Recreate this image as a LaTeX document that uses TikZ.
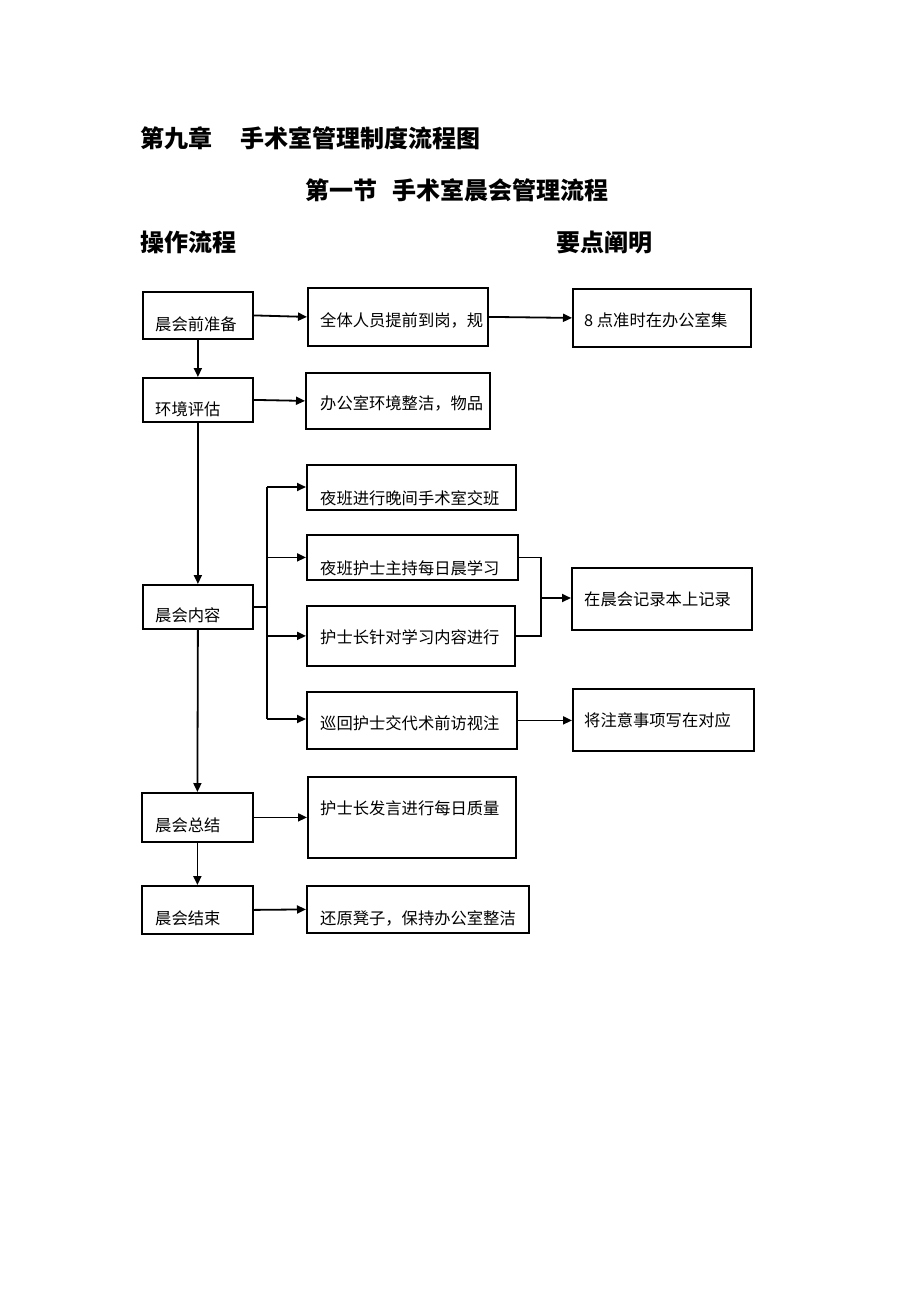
\documentclass[tikz,border=0pt]{standalone}
\usepackage{fontspec}
\setmainfont{Noto Sans CJK SC}
\usetikzlibrary{arrows.meta}
\begin{document}
\begin{tikzpicture}[x=1pt,y=-1pt,
  box/.style={draw, line width=1.8pt, inner sep=0pt, anchor=north west},
  txt/.style={anchor=base west, inner sep=0pt, font=\fontsize{16.3}{19}\selectfont},
  hd/.style={anchor=base west, inner sep=0pt, font=\fontsize{24}{28}\selectfont\bfseries},
  arr/.style={line width=1.8pt, -{Triangle[length=9pt,width=8pt]}},
  ln/.style={line width=1.8pt}]
\useasboundingbox[fill=white] (0,0) rectangle (920,1302);

% headings
\node[hd] (h1) at (140,147) {第九章\hspace{28pt}手术室管理制度流程图};
\node[hd] (h2) at (305,199) {第一节\hspace{15pt}手术室晨会管理流程};
\node[hd] (h3) at (140,251) {操作流程};
\node[hd] (h4) at (556,251) {要点阐明};

% boxes
\node[box, minimum width=110, minimum height=47] (b1) at (142,291) {};
\node[box, minimum width=180, minimum height=58] (r1) at (307,287) {};
\node[box, minimum width=178, minimum height=58] (f1) at (572,288) {};
\node[box, minimum width=110, minimum height=44] (b2) at (142,377) {};
\node[box, minimum width=184, minimum height=56] (r2) at (305,372) {};
\node[box, minimum width=209, minimum height=45] (n1) at (306,464) {};
\node[box, minimum width=211, minimum height=45] (n2) at (306,534) {};
\node[box, minimum width=110, minimum height=44] (b3) at (142,584) {};
\node[box, minimum width=180, minimum height=62] (f2) at (571,567) {};
\node[box, minimum width=208, minimum height=60] (n3) at (306,605) {};
\node[box, minimum width=210, minimum height=57] (n4) at (306,691) {};
\node[box, minimum width=181, minimum height=62] (f3) at (572,688) {};
\node[box, minimum width=111, minimum height=49] (b4) at (141,792) {};
\node[box, minimum width=208, minimum height=81] (r3) at (307,776) {};
\node[box, minimum width=111, minimum height=48] (b5) at (141,885) {};
\node[box, minimum width=222, minimum height=47] (r4) at (306,885) {};

% texts
\node[txt] (tb1) at (155,330) {晨会前准备};
\node[txt] (tr1) at (320,326) {全体人员提前到岗，规};
\node[txt] (tf1) at (584,326) {8 点准时在办公室集};
\node[txt] (tb2) at (155,415) {环境评估};
\node[txt] (tr2) at (320,409) {办公室环境整洁，物品};
\node[txt] (tn1) at (320,504) {夜班进行晚间手术室交班};
\node[txt] (tn2) at (320,574) {夜班护士主持每日晨学习};
\node[txt] (tb3) at (155,621) {晨会内容};
\node[txt] (tf2) at (584,605) {在晨会记录本上记录};
\node[txt] (tn3) at (320,643) {护士长针对学习内容进行};
\node[txt] (tn4) at (320,729) {巡回护士交代术前访视注};
\node[txt] (tf3) at (584,726) {将注意事项写在对应};
\node[txt] (tb4) at (155,831) {晨会总结};
\node[txt] (tr3) at (320,814) {护士长发言进行每日质量};
\node[txt] (tb5) at (155,924) {晨会结束};
\node[txt] (tr4) at (320,924) {还原凳子，保持办公室整洁};

% main column
\draw[arr] (b1.south) -- (b2.north);
\draw[arr] (b2.south) -- (b3.north);
\draw[arr] (b3.south) -- (b4.north);
\draw[arr] (b4.south) -- (b5.north);

% horizontal arrows
\draw[arr] (b1.east) -- (r1.west);
\draw[arr] (r1.east) -- (f1.west);
\draw[arr] (b2.east) -- (r2.west);
\draw[arr] (b4.east) -- (r3.west |- b4.east);
\draw[arr] (b5.east) -- (r4.west);
\draw[arr] (n4.east) -- (f3.west |- n4.east);

% branch from 晨会内容
\coordinate (jt) at (267,487);
\coordinate (jb) at (267,719);
\draw[ln] (b3.east) -- (b3.east -| jt);
\draw[ln] (jt) -- (jb);
\draw[arr] (jt) -- (n1.west |- jt);
\draw[arr] (jt |- n2.west) -- (n2.west);
\draw[arr] (jt |- n3.west) -- (n3.west);
\draw[arr] (jb) -- (n4.west |- jb);

% merge to 在晨会记录本上记录
\coordinate (m) at (541,598);
\draw[ln] (n2.east) -| (m);
\draw[ln] (n3.east) -| (m);
\draw[arr] (m) -- (f2.west |- m);
\end{tikzpicture}
\end{document}
